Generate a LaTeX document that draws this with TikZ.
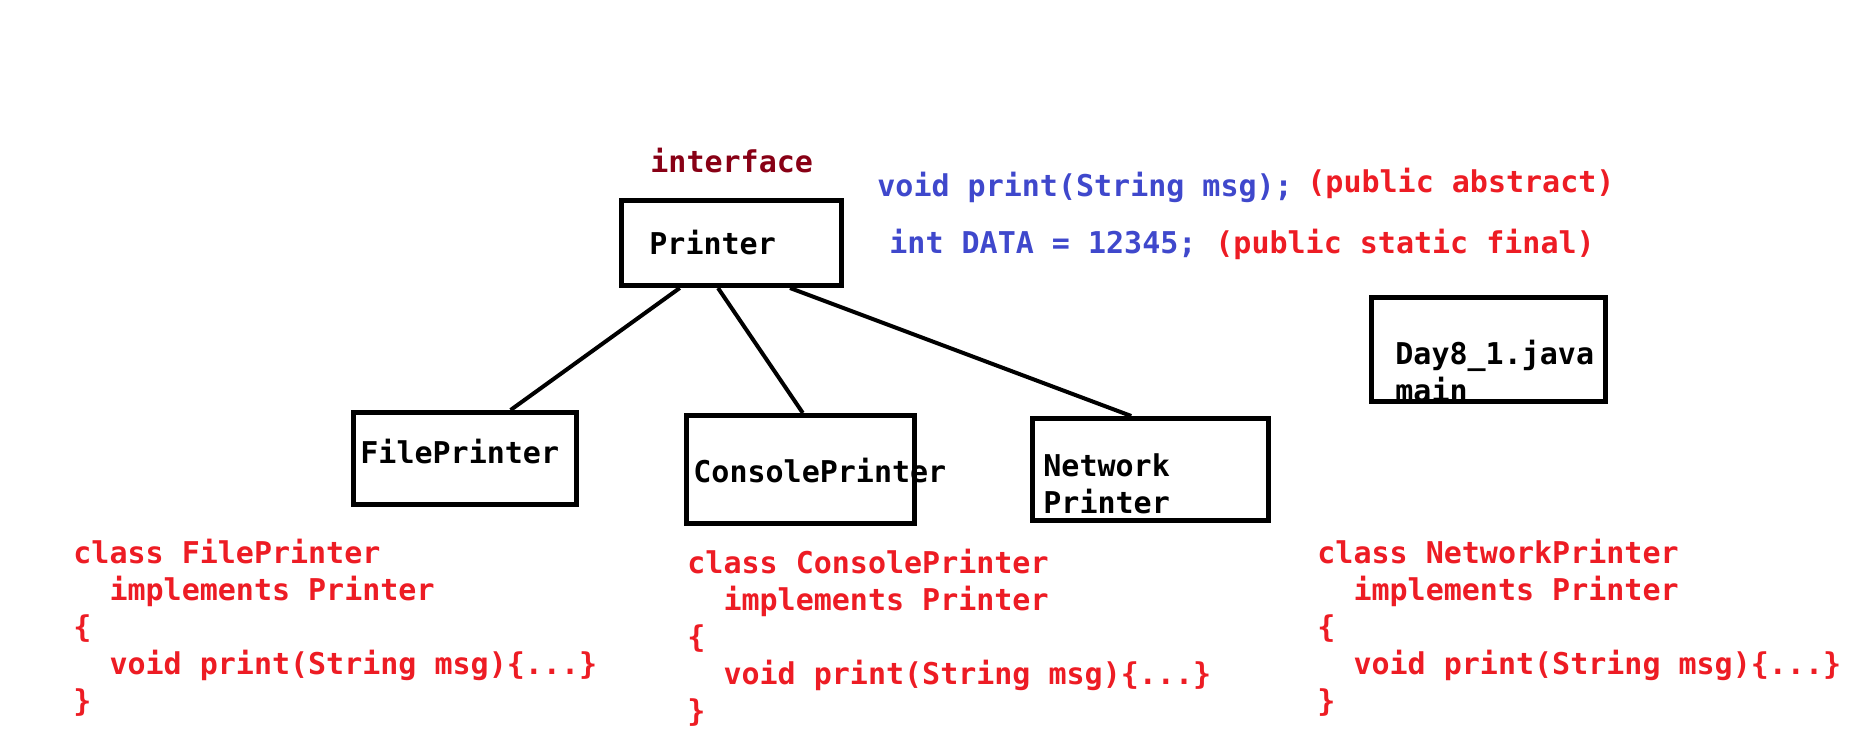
\documentclass[tikz,border=0pt]{standalone}
\usepackage{fontspec}
\setmonofont{DejaVu Sans Mono}
\usetikzlibrary{calc}
\definecolor{diagramred}{RGB}{237,28,36}
\definecolor{diagramblue}{RGB}{63,72,204}
\definecolor{diagrammaroon}{RGB}{136,0,21}
\tikzset{
  diagram box/.style={draw=black,line width=2.5pt,inner sep=0pt},
  diagram link/.style={line width=2pt,draw=black},
  diagram label/.style={anchor=base west,inner sep=0pt,text=black,align=left},
  diagram code/.style={anchor=base west,inner sep=0pt,align=left,text=diagramred},
  diagram note/.style={anchor=base west,inner sep=0pt}
}

\begin{document}
\begin{tikzpicture}[x=0.5pt,y=-0.5pt,font=\ttfamily\bfseries\fontsize{15}{18.5}\selectfont]
  \useasboundingbox (0,0) rectangle (1850,743);

  \node[diagram box,minimum width=110pt,minimum height=42.5pt] (printer) at (731.5,243) {};
  \node[diagram box,minimum width=111.5pt,minimum height=46pt] (file) at (465,458.5) {};
  \node[diagram box,minimum width=114pt,minimum height=54pt] (console) at (800.5,469.5) {};
  \node[diagram box,minimum width=118pt,minimum height=51pt] (network) at (1150.5,469.5) {};
  \node[diagram box,minimum width=117pt,minimum height=52pt] (main) at (1488.5,349.5) {};

  \node[diagram note,text=diagrammaroon] (iface) at (650,173) {interface};
  \node[diagram label] (printer text) at (649,254) {Printer};
  \node[diagram label] (file text) at (360,463) {FilePrinter};
  \node[diagram label] (console text) at (693,482) {ConsolePrinter};
  \node[diagram label] (network text) at (1043,513) {Network\\Printer};
  \node[diagram label] (main text) at (1395,401) {Day8\_1.java\\main};

  \node[diagram note,text=diagramblue] (method) at (877,197) {void print(String msg);};
  \node[diagram note,text=diagramred] (method mod) at (1307,193) {(public abstract)};
  \node[diagram note,text=diagramblue] (field) at (889,253) {int DATA = 12345;};
  \node[diagram note,text=diagramred] (field mod) at (1215,253) {(public static final)};

  \draw[diagram link] ($(printer.south west)!0.27!(printer.south east)$)
    -- ($(file.north west)!0.70!(file.north east)$);
  \draw[diagram link] ($(printer.south west)!0.44!(printer.south east)$)
    -- ($(console.north west)!0.51!(console.north east)$);
  \draw[diagram link] ($(printer.south west)!0.76!(printer.south east)$)
    -- ($(network.north west)!0.42!(network.north east)$);

  \node[diagram code] (file code) at (73,711) {class FilePrinter\\
    \ \ implements Printer\\
    \{\\
    \ \ void print(String msg)\{...\}\\
    \}};
  \node[diagram code] (console code) at (687,721) {class ConsolePrinter\\
    \ \ implements Printer\\
    \{\\
    \ \ void print(String msg)\{...\}\\
    \}};
  \node[diagram code] (network code) at (1317,711) {class NetworkPrinter\\
    \ \ implements Printer\\
    \{\\
    \ \ void print(String msg)\{...\}\\
    \}};
\end{tikzpicture}
\end{document}
